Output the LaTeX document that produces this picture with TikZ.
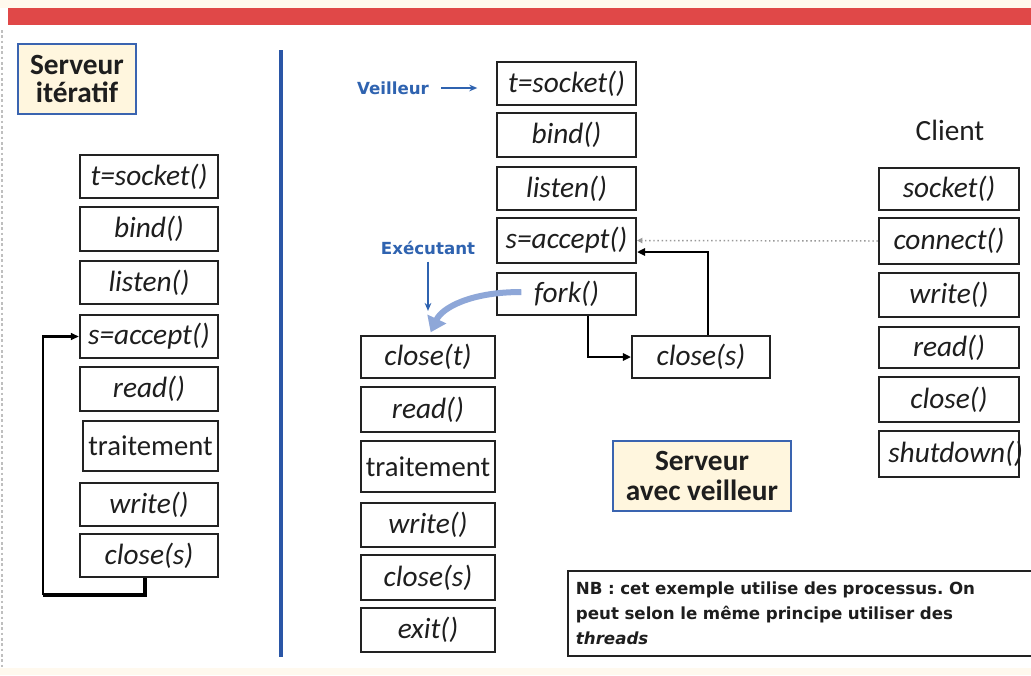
\documentclass[tikz,border=0pt]{standalone}
\usepackage{fontspec}
\setmainfont{Carlito}
\newfontfamily\labelfont{DejaVu Sans}
\usetikzlibrary{arrows.meta}
\frenchspacing

\definecolor{barred}{HTML}{E04848}
\definecolor{framegray}{HTML}{222222}
\definecolor{inkgray}{HTML}{1E1E1E}
\definecolor{titleblue}{HTML}{3A64B0}
\definecolor{titlefill}{HTML}{FFF6DE}
\definecolor{divblue}{HTML}{2A56A6}
\definecolor{lblblue}{HTML}{2F63B0}
\definecolor{curveblue}{HTML}{8EA7D8}
\definecolor{cream}{HTML}{FFF9EE}

\begin{document}
\begin{tikzpicture}[x=0.75pt,y=-0.75pt,
  sz/.style 2 args={minimum width=#1*0.75pt, minimum height=#2*0.75pt},
  op/.style={draw=framegray, line width=1.6pt, fill=white, inner sep=0pt,
    text=inkgray, font=\fontsize{22}{24}\selectfont\itshape},
  plainop/.style={op, font=\fontsize{21.5}{24}\selectfont},
  titlebox/.style={draw=titleblue, line width=1.5pt, fill=titlefill, inner sep=0pt,
    align=center, text=inkgray},
  bluelbl/.style={text=lblblue, inner sep=1pt, font=\labelfont\bfseries\fontsize{12.5}{14}\selectfont},
  flow/.style={draw=black, line width=1.6pt, -{Triangle[length=6pt,width=5pt]}},
  heavyflow/.style={draw=black, line width=2.2pt, -{Triangle[length=6pt,width=5.5pt]}},
  bluearrow/.style={draw=lblblue, line width=1.1pt, -{Stealth[length=6pt,width=5pt]}},
  dotflow/.style={draw=black!40, line width=1.1pt, dotted, -{Triangle[length=4pt,width=4pt]}},
  forkcurve/.style={draw=curveblue, line width=4.5pt, -{Triangle[length=11pt,width=15pt]}}
]
\clip (0,0) rectangle (1031,675);
\useasboundingbox (0,0) rectangle (1031,675);

% page background, header band and frame hints
\fill[white] (0,0) rectangle (1031,675);
\fill[cream] (0,0) rectangle (1031,8);
\fill[cream] (0,668) rectangle (1031,675);
\fill[barred] (8,8) rectangle (1031,25);
\draw[black!25, line width=0.8pt, dash pattern=on 2pt off 2pt] (2,30) -- (2,668);

% divider between the two servers
\draw[divblue, line width=2.4pt] (281,50) -- (281,657);

% ---------- iterative server ----------
\node[titlebox, sz={118}{70}, font=\fontsize{22}{20.5}\selectfont\bfseries] (titer) at (77,79) {Serveur\\itératif};

\node[op, sz={138}{43}] (lsock)   at (149,176.5) {t=socket()};
\node[op, sz={138}{44}] (lbind)   at (149,229)   {bind()};
\node[op, sz={138}{43}] (llisten) at (149,282.5) {listen()};
\node[op, sz={138}{43}] (lacc)    at (149,336.5) {s=accept()};
\node[op, sz={138}{44}] (lread)   at (149,389)   {read()};
\node[plainop, sz={135}{50}] (ltrait) at (150.5,446) {traitement};
\node[op, sz={138}{43}] (lwrite)  at (149,504.5) {write()};
\node[op, sz={138}{43}] (lclose)  at (149,555.5) {close(s)};

\coordinate (lx) at (145,0);
\coordinate (lbot) at (43,595);
\draw[black, line width=2.6pt] (lclose.south -| lx) |- (lbot);
\draw[flow] (lbot) |- (lacc.west);

% ---------- server with watcher ----------
\node[bluelbl] (veil) at (393,88) {Veilleur};
\node[op, sz={139}{43}] (msock)   at (566.5,83.5)  {t=socket()};
\node[op, sz={139}{44}] (mbind)   at (566.5,135)   {bind()};
\node[op, sz={139}{43}] (mlisten) at (566.5,188.5) {listen()};
\node[op, sz={139}{45}] (macc)    at (566.5,240.5) {s=accept()};
\node[op, sz={139}{42}] (mfork)   at (566.5,294)   {fork()};
\node[op, sz={138}{42}] (mclose)  at (701,357)     {close(s)};

\draw[bluearrow, shorten <=8pt, shorten >=14pt] (veil.east) -- (msock.west |- veil.east);

\coordinate (fx) at (588,0);
\coordinate (rx) at (708,0);
\coordinate (ry) at (0,252);
\draw[heavyflow] (mfork.south -| fx) |- (mclose.west);
\draw[heavyflow] (mclose.north -| rx) |- (macc.east |- ry);

% child process
\node[bluelbl] (exec) at (428,248) {Exécutant};
\node[op, sz={134}{42}] (ccloset) at (428,357)   {close(t)};
\node[op, sz={134}{45}] (cread)   at (428,409.5) {read()};
\node[plainop, sz={134}{51}] (ctrait) at (428,466.5) {traitement};
\node[op, sz={134}{44}] (cwrite)  at (428,525)   {write()};
\node[op, sz={134}{45}] (cclose)  at (428,577.5) {close(s)};
\node[op, sz={134}{44}] (cexit)   at (428,630)   {exit()};

\draw[bluearrow, shorten <=4pt, shorten >=18pt] (exec.south) -- (ccloset.north);
\draw[forkcurve] ([xshift=19pt,yshift=1.5pt]mfork.west) .. controls (470,292) and (442,308) .. ([xshift=2pt,yshift=2pt]ccloset.north);

\node[titlebox, sz={178}{70}, font=\fontsize{22}{22.5}\selectfont\bfseries] (tveil) at (702,476) {Serveur\\avec veilleur};

% ---------- client ----------
\node[text=inkgray, font=\fontsize{22}{24}\selectfont] (clabel) at (950,130) {Client};
\node[op, sz={140}{42}] (ksock)  at (949,189)   {socket()};
\node[op, sz={140}{46}] (kconn)  at (949,241)   {connect()};
\node[op, sz={140}{44}] (kwrite) at (949,295)   {write()};
\node[op, sz={140}{41}] (kread)  at (949,347.5) {read()};
\node[op, sz={140}{45}] (kclose) at (949,399.5) {close()};
\node[op, sz={140}{46}] (kshut)  at (949,454)   {\makebox[0pt]{\hspace*{10pt}shutdown()}};

\draw[dotflow] (kconn.west) -- (macc.east);

% ---------- note ----------
\node[draw=framegray, line width=1.4pt, fill=white, anchor=north west, align=left,
  text width=470*0.75pt, minimum height=85*0.75pt, inner xsep=6pt, inner ysep=3pt,
  text=inkgray, font=\labelfont\bfseries\fontsize{12.5}{18.5}\selectfont] (nb) at (567,570)
  {NB : cet exemple utilise des processus. On\\
   peut selon le même principe utiliser des\\
   \textit{threads}};
\end{tikzpicture}
\end{document}
